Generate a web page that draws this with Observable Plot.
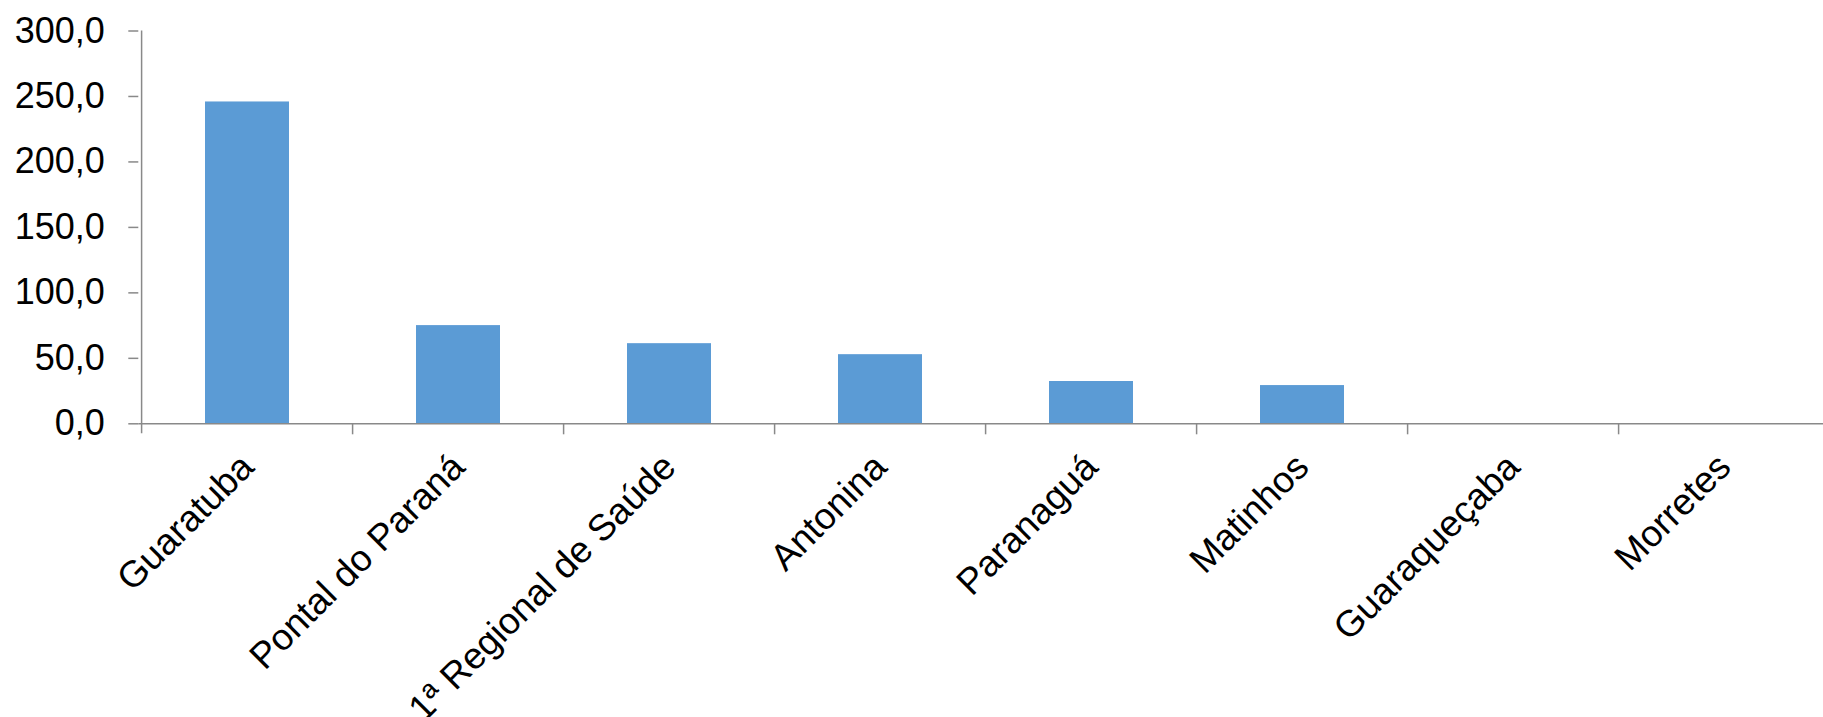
<!DOCTYPE html>
<html>
<head>
<meta charset="utf-8">
<script src="https://cdn.jsdelivr.net/npm/d3@7"></script>
<script src="https://cdn.jsdelivr.net/npm/@observablehq/plot@0.6"></script>
<style>
  html, body { margin: 0; padding: 0; background: white; overflow: hidden; }
  #chart svg { display: block; overflow: visible; }
</style>
</head>
<body>
<div id="chart"></div>
<script>
const categories = ["Guaratuba", "Pontal do Paraná", "1ª Regional de Saúde", "Antonina", "Paranaguá", "Matinhos", "Guaraqueçaba", "Morretes"];
const values = [245.8, 75.0, 61.2, 52.8, 32.3, 29.2, 0, 0];
const yTicks = [0, 50, 100, 150, 200, 250, 300];

const data = categories.map((name, i) => ({name, value: values[i]}));

const W = 1823, H = 717;
const marginLeft = 138.3, marginRight = -9.7, marginTop = 30.5, marginBottom = H - 423.3;
const step = (W - marginRight - marginLeft) / categories.length;
const axisColor = "#898989";
const font = "'Liberation Sans', Arial, Helvetica, sans-serif";

const chart = Plot.plot({
  width: W,
  height: H,
  marginLeft, marginRight, marginTop, marginBottom,
  style: {fontFamily: font, fontSize: "36px", color: "black", background: "white"},
  x: {domain: categories, paddingInner: 0.6, paddingOuter: 0.3, axis: null},
  y: {domain: [0, 300], axis: null},
  marks: [
    Plot.barY(data, {x: "name", y: "value", fill: "#5B9BD5"}),
    Plot.ruleY([0], {stroke: axisColor, strokeWidth: 1.5}),
    // y axis line (also first category boundary tick)
    Plot.ruleX(categories.slice(0, 1), {x: d => d, dx: -step / 2, stroke: axisColor, strokeWidth: 1.5, insetBottom: -10}),
    // category boundary ticks
    Plot.ruleX(categories.slice(1), {x: d => d, dx: -step / 2, stroke: axisColor, strokeWidth: 1.5, insetTop: 423.3 - marginTop, insetBottom: -11}),
    Plot.axisY({ticks: yTicks, tickSize: 10, tickPadding: 24, stroke: axisColor, strokeWidth: 1.5, fill: "black",
      tickFormat: d => d.toFixed(1).replace(".", ","), fontSize: 36, label: null}),
    Plot.text(data, {x: "name", y: 0, text: "name", rotate: -45, textAnchor: "end", lineAnchor: "middle",
      dy: 37, fontSize: 37, fill: "black"})
  ]
});
document.getElementById("chart").appendChild(chart);
</script>
</body>
</html>
